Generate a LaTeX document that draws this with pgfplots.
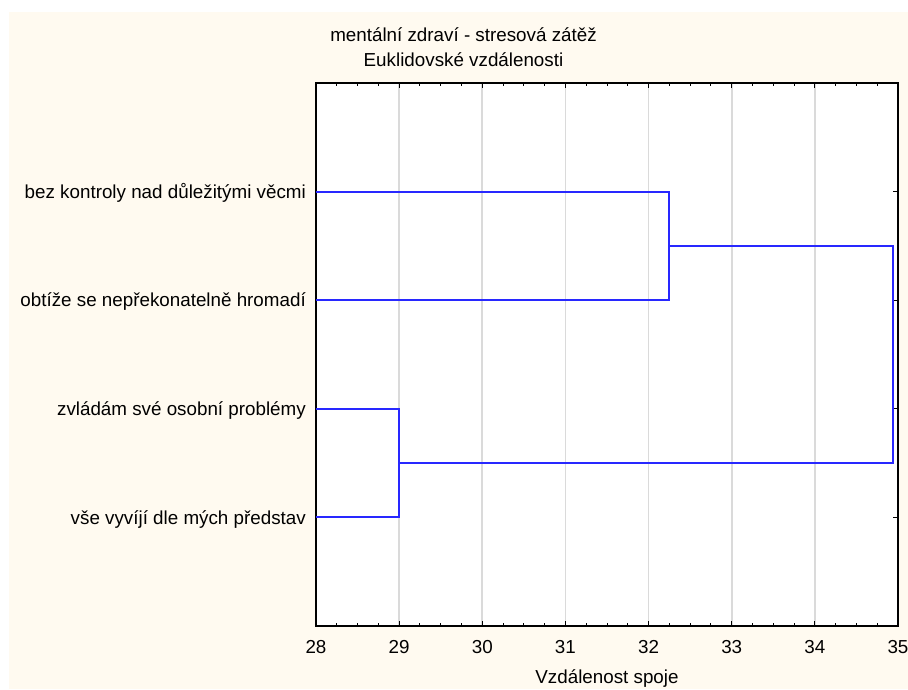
\documentclass[border=0pt]{standalone}
\usepackage{fontspec}
\setmainfont{Liberation Sans}
\usepackage{pgfplots}
\pgfplotsset{compat=1.18}
\definecolor{cream}{RGB}{255,250,240}
\definecolor{gridgray}{RGB}{218,218,218}
\definecolor{dblue}{RGB}{40,40,255}
\begin{document}
\fontsize{18.8}{22}\selectfont%
\begin{tikzpicture}
\useasboundingbox (0pt,0pt) rectangle (908pt,689pt);
\fill[white] (0pt,0pt) rectangle (908pt,689pt);
\fill[cream] (9pt,0pt) rectangle (908pt,677pt);
\begin{axis}[
  at={(316pt,63pt)}, anchor=south west,
  width=582pt, height=543pt, scale only axis,
  xmin=28, xmax=35, ymin=0, ymax=5,
  xtick={28,29,30,31,32,33,34,35}, minor x tick num=3,
  ytick={1,2,3,4},
  yticklabels={vše vyvíjí dle mých představ, zvládám své osobní problémy, obtíže se nepřekonatelně hromadí, bez kontroly nad důležitými věcmi},
  tick align=inside,
  major tick length=5pt, minor tick length=3pt,
  tick style={black, line width=0.9pt},
  xmajorgrids,
  major grid style={gridgray, line width=1.6pt},
  axis line style={black, line width=1.3pt},
  axis background/.style={fill=white},
  /pgf/number format/assume math mode=true,
  yticklabel style={font=\fontsize{18.8}{22}\selectfont, inner sep=0pt, text height=13.4pt, text depth=0pt, anchor=east, xshift=-10pt},
  xticklabel style={font=\fontsize{18.8}{22}\selectfont, inner sep=0pt, text height=13.4pt, text depth=0pt, anchor=north, yshift=-14pt},
  xlabel={Vzdálenost spoje},
  xlabel style={font=\fontsize{18.8}{22}\selectfont, at={(axis description cs:0.5,0)}, anchor=base, inner sep=0pt, yshift=-57pt},
]
\addplot[dblue, line width=2pt] coordinates {(28,4) (32.25,4) (32.25,3) (28,3)};
\addplot[dblue, line width=2pt] coordinates {(28,2) (29,2) (29,1) (28,1)};
\addplot[dblue, line width=2pt] coordinates {(32.25,3.5) (34.94,3.5) (34.94,1.5) (29,1.5)};
\end{axis}
\node[anchor=base, inner sep=0pt] at (463.5pt,647.3pt) {mentální zdraví - stresová zátěž};
\node[anchor=base, inner sep=0pt] at (463.5pt,622.3pt) {Euklidovské vzdálenosti};
\end{tikzpicture}
\end{document}
